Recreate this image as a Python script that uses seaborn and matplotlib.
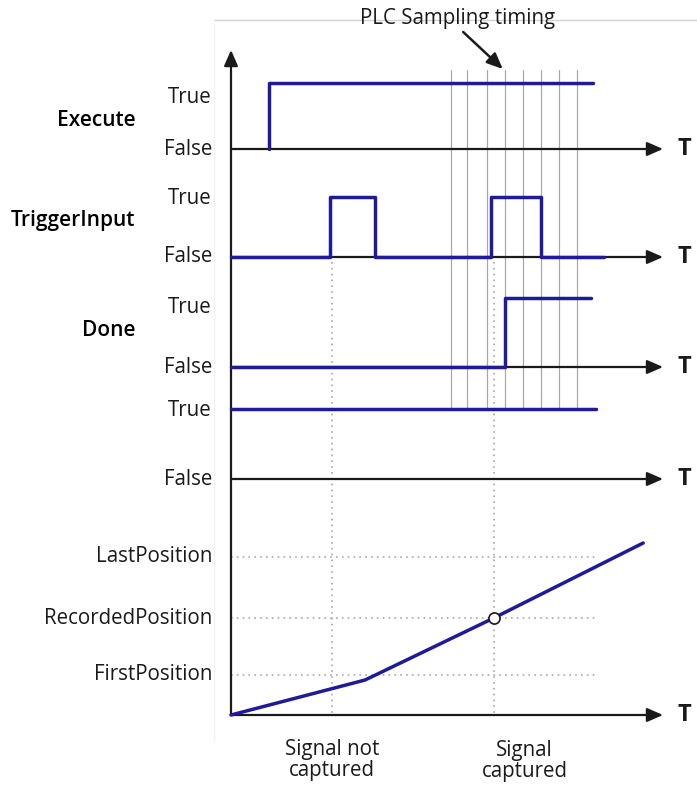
import matplotlib
matplotlib.use('Agg')
import matplotlib.pyplot as plt
import seaborn as sns

# === 1. Data (times in sampling periods, levels 0/1) ===
sample_times = [12.2, 13.1, 14.2, 15.2, 16.2, 17.2, 18.2, 19.2]

execute_time = [2.1, 2.1, 20.1]
execute_level = [0, 1, 1]

trigger_time = [0, 5.5, 5.5, 8.0, 8.0, 14.45, 14.45, 17.2, 17.2, 20.7]
trigger_level = [0, 0, 1, 1, 0, 0, 1, 1, 0, 0]

done_time = [0, 15.2, 15.2, 20.0]
done_level = [0, 0, 1, 1]

fourth_time = [0, 20.3]
fourth_level = [1, 1]

position_time = [0, 7.45, 14.6, 22.9]
position_value = [0, 35, 97, 172]
position_names = ['FirstPosition', 'RecordedPosition', 'LastPosition']
position_marks = [40, 97, 158]

not_captured_time = 5.6
captured_time = 14.6
recorded_value = 97
axis_end = 24.0

# === 2. Layout (pixels) ===
PX = 18.0          # pixels per sampling period
ORIGIN_X = 231
lanes = {          # name: (false_y, true_y, true_label_y, title_y)
    'Execute': (149, 83, 97, 120),
    'TriggerInput': (257, 197, 198, 220),
    'Done': (367, 298, 307, 330),
    '': (479, 409, 410, None),
}
POS_BASE = 715
BLUE = '#1f1a99'
GREY = '#a8a8a8'
INK = '#1a1a1a'
FS = 14.8

sns.set_theme(style='white')
plt.rcParams['font.family'] = ['Open Sans', 'DejaVu Sans']

fig = plt.figure(figsize=(6.97, 7.89), dpi=100)
ax = fig.add_axes([0, 0, 1, 1])
ax.set_xlim(-ORIGIN_X / PX, (697 - ORIGIN_X) / PX)
ax.set_ylim(789, 0)
ax.axis('off')


def to_y(lane, levels):
    f, t = lanes[lane][0], lanes[lane][1]
    return [f - lv * (f - t) for lv in levels]


def arrow(x0, y0, x1, y1, lw=1.6):
    ax.annotate('', xy=(x1, y1), xytext=(x0, y0),
                arrowprops=dict(arrowstyle='-|>,head_length=0.8,head_width=0.35',
                                lw=lw, color=INK, shrinkA=0, shrinkB=0,
                                mutation_scale=12), zorder=3)


# screenshot frame
ax.plot([-17 / PX, 697 / PX], [20, 20], color='#d2d2d2', lw=1)
ax.plot([-17 / PX, -17 / PX], [20, 740], color='#f2f2f2', lw=1)

# sampling lines
for st in sample_times:
    ax.plot([st, st], [70, 408], color=GREY, lw=0.9, zorder=1)

# dotted guides
for gt in [not_captured_time, captured_time]:
    ax.plot([gt, gt], [262, POS_BASE], color=GREY, lw=1.2, ls=(0, (1, 2.5)), zorder=1)
for pm in position_marks:
    ax.plot([0, 20.2], [POS_BASE - pm] * 2, color=GREY, lw=1.2, ls=(0, (1, 2.5)), zorder=1)

# axes with arrows
arrow(0, POS_BASE, 0, 50)
for name, (fy, ty, tly, ry) in lanes.items():
    arrow(0, fy, axis_end, fy)
    ax.text(axis_end + 1.2, fy, 'T', fontsize=17, fontweight='bold', color=INK,
            ha='center', va='center')
    ax.text(-1.05, fy, 'False', fontsize=FS, color=INK, ha='right', va='center')
    ax.text(-1.05, tly, 'True', fontsize=FS, color=INK, ha='right', va='center')
    if ry is not None:
        ax.text(-5.3, ry, name, fontsize=15, fontweight='semibold', color='black',
                ha='right', va='center')
arrow(0, POS_BASE, axis_end, POS_BASE)
ax.text(axis_end + 1.2, POS_BASE, 'T', fontsize=17, fontweight='bold', color=INK,
        ha='center', va='center')

# signals
line_kw = dict(color=BLUE, lw=2.5, estimator=None, sort=False, legend=False, ax=ax, zorder=4)
sns.lineplot(x=execute_time, y=to_y('Execute', execute_level), **line_kw)
sns.lineplot(x=trigger_time, y=to_y('TriggerInput', trigger_level), **line_kw)
sns.lineplot(x=done_time, y=to_y('Done', done_level), **line_kw)
sns.lineplot(x=fourth_time, y=to_y('', fourth_level), **line_kw)
sns.lineplot(x=position_time, y=[POS_BASE - v for v in position_value], **line_kw)
ax.plot([captured_time], [POS_BASE - recorded_value], 'o', ms=8, mfc='white',
        mec=INK, mew=1.2, zorder=5)

# position labels
for nm, pm in zip(position_names, position_marks):
    ax.text(-1.05, POS_BASE - pm, nm, fontsize=FS, color=INK, ha='right', va='center')

# annotations
ax.text(12.6, 18, 'PLC Sampling timing', fontsize=FS, color=INK, ha='center', va='center')
arrow(12.9, 32, 15.1, 69, lw=1.8)
ax.text(not_captured_time, 760, 'Signal not\ncaptured', fontsize=FS, color=INK,
        ha='center', va='center', linespacing=1.05)
ax.text(16.3, 761, 'Signal\ncaptured', fontsize=FS, color=INK,
        ha='center', va='center', linespacing=1.05)

fig.savefig('out.png', dpi=100)
